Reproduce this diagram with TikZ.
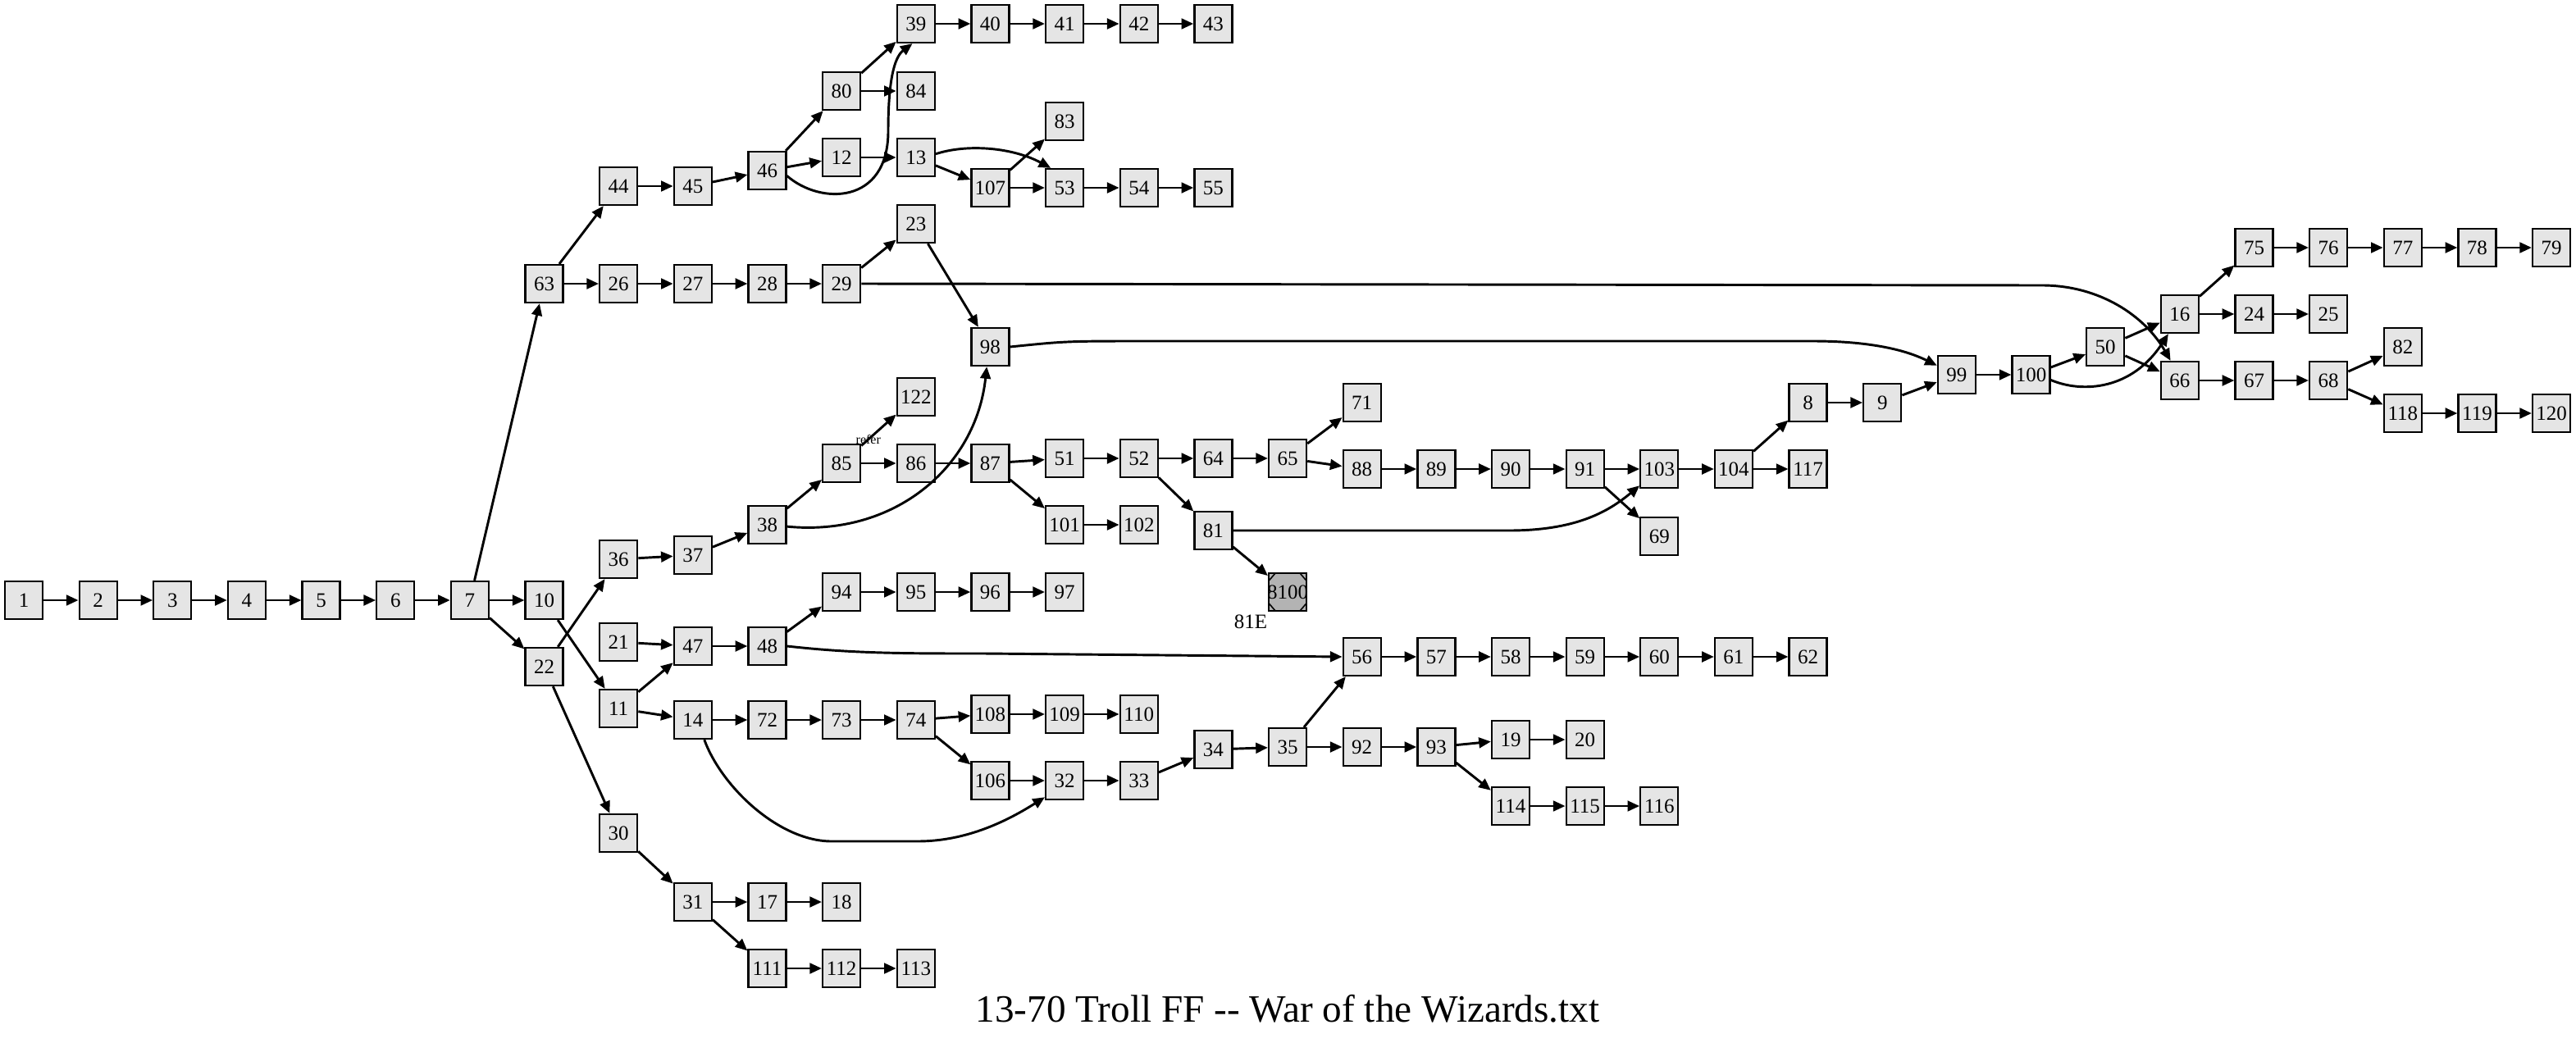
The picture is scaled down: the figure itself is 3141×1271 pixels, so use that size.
\documentclass[tikz,border=0pt]{standalone}
\usepackage{fontspec}
\setmainfont{Liberation Serif}
\usetikzlibrary{arrows.meta}
\definecolor{boxgray}{HTML}{E5E5E5}
\definecolor{endgray}{HTML}{B3B3B3}
\tikzset{
    box/.style={draw, line width=1.7pt, fill=boxgray, minimum width=34.5pt,
        minimum height=34.5pt, inner sep=0pt, font=\fontsize{18.75}{20}\selectfont},
    endbox/.style={box, fill=endgray, path picture={
        \foreach \a/\sx/\sy in {north west/1/-1,north east/-1/-1,south west/1/1,south east/-1/1}
            \draw[line width=1.2pt] ([xshift=\sx*6pt]path picture bounding box.\a)
                -- ([yshift=\sy*7pt]path picture bounding box.\a);}},
    edge/.style={line width=2.2pt, -{Triangle[length=11pt,width=9.5pt]}},
}
\begin{document}
\begin{tikzpicture}[x=0.75pt,y=-0.75pt]
        \useasboundingbox (0,0) rectangle (3141,1271);
        %% Sections, column by column
        \foreach \c/\y/\n in {0/732/1,1/732/2,2/732/3,3/732/4,4/732/5,5/732/6,6/732/7,
            7/346/63,7/732/10,7/813/22,
            8/227/44,8/346/26,8/682/36,8/783/21,8/864/11,8/1016/30,
            9/227/45,9/346/27,9/677/37,9/788/47,9/878/14,9/1100/31,
            10/208/46,10/346/28,10/640/38,10/788/48,10/878/72,10/1100/17,10/1181/111,
            11/111/80,11/192/12,11/346/29,11/565/85,11/722/94,11/878/73,11/1100/18,11/1181/112,
            12/29/39,12/111/84,12/192/13,12/273/23,12/484/122,12/565/86,12/722/95,12/878/74,12/1181/113,
            13/29/40,13/229/107,13/423/98,13/565/87,13/722/96,13/871/108,13/952/106,
            14/29/41,14/148/83,14/229/53,14/559/51,14/640/101,14/722/97,14/871/109,14/952/32,
            15/29/42,15/229/54,15/559/52,15/640/102,15/871/110,15/952/33,
            16/29/43,16/229/55,16/559/64,16/647/81,16/914/34,
            17/559/65,17/911/35,
            18/491/71,18/572/88,18/801/56,18/911/92,
            19/572/89,19/801/57,19/911/93,
            20/572/90,20/801/58,20/902/19,20/983/114,
            21/572/91,21/801/59,21/902/20,21/983/115,
            22/572/103,22/654/69,22/801/60,22/983/116,
            23/572/104,23/801/61,
            24/491/8,24/572/117,24/801/62,
            25/491/9,26/457/99,27/457/100,28/423/50,
            29/383/16,29/464/66,
            30/302/75,30/383/24,30/464/67,
            31/302/76,31/383/25,31/464/68,
            32/302/77,32/423/82,32/504/118,
            33/302/78,33/504/119,
            34/302/79,34/504/120}
            \node[box] (n\n) at ({29+90.65*\c},\y) {\n};
        %% Ending
        \node[endbox] (n8100) at ({29+90.65*17},722) {\makebox[0pt]{8100}};
        \node[font=\fontsize{18.75}{20}\selectfont] (x8100) at (1525,758) {81E};
        %% Straight links
        \foreach \a/\b in {1/2,2/3,3/4,4/5,5/6,6/7,7/63,7/10,7/22,63/44,63/26,44/45,45/46,
            46/80,46/12,80/39,80/84,12/13,13/107,107/83,107/53,53/54,54/55,
            39/40,40/41,41/42,42/43,26/27,27/28,28/29,29/23,23/98,10/11,22/36,22/30,
            36/37,37/38,38/85,85/86,86/87,87/51,87/101,101/102,51/52,52/64,52/81,
            64/65,65/71,65/88,88/89,89/90,90/91,91/103,91/69,103/104,104/8,104/117,
            8/9,9/99,99/100,100/50,50/16,50/66,16/75,16/24,24/25,75/76,76/77,77/78,78/79,
            66/67,67/68,68/82,68/118,118/119,119/120,81/8100,21/47,11/47,11/14,47/48,
            48/94,94/95,95/96,96/97,56/57,57/58,58/59,59/60,60/61,61/62,
            14/72,72/73,73/74,74/108,74/106,108/109,109/110,106/32,32/33,33/34,34/35,
            35/56,35/92,92/93,93/19,93/114,19/20,114/115,115/116,
            30/31,31/17,31/111,17/18,111/112,112/113}
            \draw[edge] (n\a) -- (n\b);
        \draw[edge] (n85) -- (n122)
            node[pos=0.2,anchor=center,font=\fontsize{12}{12}\selectfont] {refer};
        %% Curved links
        \draw[edge] (n46.-15) .. controls (1000,250) and (1083,250) .. (1083,160)
            .. controls (1083,100) and (1090,70) .. (n39.-100);
        \draw[edge] (n13.10) .. controls (1180,175) and (1235,180) .. (n53.125);
        \draw[edge] (n29.east) -- (2490,348) .. controls (2560,348) and (2615,385) .. (n66.115);
        \draw[edge] (n98.east) .. controls (1300,416) .. (1400,416) -- (2210,416)
            .. controls (2290,416) and (2330,430) .. (n99.155);
        \draw[edge] (n38.-5) .. controls (1090,655) and (1190,570) .. (n98.-100);
        \draw[edge] (n100.-15) .. controls (2540,480) and (2600,475) .. (n16.-120);
        \draw[edge] (n81.east) -- (1840,647) .. controls (1920,647) and (1960,625) .. (n103.-140);
        \draw[edge] (n14.-60) .. controls (880,960) and (950,1026) .. (1014,1026) -- (1119,1026)
            .. controls (1180,1026) and (1230,1000) .. (n32.-140);
        \draw[edge] (n48.east) .. controls (1040,797) and (1100,797) .. (1200,797) -- (n56.west);
        %% Title
        \node[font=\fontsize{35.4}{40}\selectfont] (title) at (1570,1230)
            {13-70 Troll FF -\kern0pt- War of the Wizards.txt};
    \end{tikzpicture}
\end{document}
